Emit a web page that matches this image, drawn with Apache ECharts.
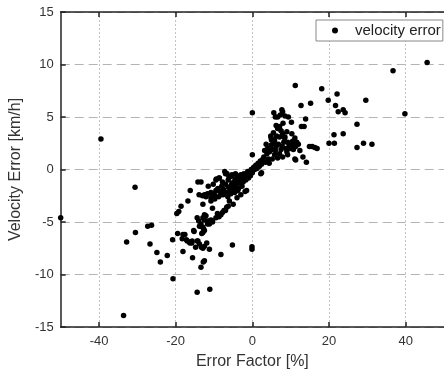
<!DOCTYPE html>
<html>
<head>
<meta charset="utf-8">
<script src="https://cdn.jsdelivr.net/npm/echarts@6/dist/echarts.min.js"></script>
<style>
html,body{margin:0;padding:0;background:#fff;}
#chart{width:444px;height:375px;}
</style>
</head>
<body>
<div id="chart"></div>
<script>
// Data: [error factor (%), velocity error (km/h)]
var seriesName = 'velocity error';
var xTicks = [-40, -20, 0, 20, 40];
var yTicks = [-15, -10, -5, 0, 5, 10, 15];

var outlierPoints = [
  [-50,-4.6],[-39.5,2.9],[-30.6,-1.7],[-33.6,-13.9],[-32.8,-6.9],[-30.5,-6.0],
  [-27.3,-5.4],[-26.3,-5.3],[-26.7,-7.1],[-24.9,-7.9],[-24.0,-8.8],[-22.2,-8.2],
  [-20.7,-10.4],[-20.8,-6.7],[-19.5,-6.1],[-18.1,-7.8],[-18.3,-6.6],[-17.6,-6.2],
  [-17.2,-6.7],[-16.4,-6.9],[-15.8,-7.0],[-15.6,-8.4],[-15.2,-5.9],[-14.8,-7.4],
  [-14.4,-6.8],[-14.4,-11.7],[-13.4,-9.3],[-13.3,-7.4],[-12.8,-8.8],[-12.9,-6.0],
  [-12.7,-5.7],[-11.9,-7.0],[-11.7,-5.2],[-11.2,-4.9],[-10.4,-4.9],[-11.2,-7.6],
  [-11.1,-11.4],[-13.8,-5.4],[-8.2,-8.1],[-5.2,-7.2],[-0.1,-7.35],[-0.1,-7.6]
];
var lowerBandPoints = [
  [-19.7,-4.2],[-19.2,-4.0],[-18.6,-3.5],[-16.8,-3.0],[-16.2,-2.0],[-14.2,-1.2],[-13.4,-1.2],
  [-13.9,-2.4],[-13.0,-2.5],[-12.5,-2.4],[-11.7,-2.3],[-10.8,-2.2],[-10.4,-2.3],[-12.9,-3.3],
  [-10.8,-3.0],[-10.4,-3.7],[-9.1,-4.2],[-8.2,-4.3],[-7.8,-4.1],[-7.4,-3.9],[-6.7,-3.6],
  [-6.3,-3.5],[-12.5,-4.3],[-12.9,-4.6],[-12.1,-4.4],[-14.0,-4.9],[-13.4,-5.2],[-11.7,-4.9],
  [-11.2,-5.2],[-10.4,-5.0],[-12.9,-5.5],[-12.5,-5.8],[-13.2,-6.1],[-15.3,-5.8],[-18.1,-6.2],
  [-17.0,-6.8],[-16.3,-7.0],[-15.7,-6.8],[-14.2,-6.8],[-13.8,-7.1],[-12.9,-7.5],[-12.5,-7.3],
  [-12.5,-8.7],[-12.1,-2.6],[-10.8,-2.7],[-9.9,-2.4],[-9.5,-4.6],[-8.7,-4.5],[-7.0,-3.9],
  [-14.4,-4.6],[-13.4,-5.4],[-12.5,-4.8],[-10.8,-4.8]
];
var centerPoints = [
  [-8.7,-0.8],[-7.8,-1.2],[-7.2,-0.2],[-6.6,-0.4],[-6.3,-1.0],[-5.7,-0.7],[-5.3,-1.3],
  [-4.4,-1.7],[-3.6,-1.8],[-2.7,-1.6],[-1.9,-2.1],[-1.5,-2.0],[-9.5,-2.0],[-9.0,-1.8],
  [-8.5,-2.1],[-8.0,-1.6],[-7.5,-1.9],[-7.0,-1.4],[-6.8,-2.2],[-6.2,-1.7],[-5.8,-2.0],
  [-5.5,-1.5],[-5.0,-1.8],[-4.8,-1.2],[-4.5,-0.9],[-4.2,-1.4],[-4.0,-0.6],[-3.8,-1.1],
  [-3.4,-0.8],[-3.2,-1.3],[-3.0,-0.5],[-2.6,-0.9],[-2.4,-1.2],[-2.2,-0.4],[-2.0,-0.7],
  [-1.7,-1.0],[-1.4,-0.5],[-1.2,-0.2],[-1.0,-0.8],[-0.7,-0.3],[-0.5,-0.6],[-0.3,0.0],
  [0.0,-0.3],[0.3,0.2],[0.6,0.0],[0.9,0.4],[1.2,0.1],[1.5,0.6],[1.8,0.3],[2.1,0.8],
  [2.4,0.5],[2.8,1.0],[-9.8,-2.8],[-8.8,-2.6],[-7.6,-2.4],[-6.4,-2.6],[-5.6,-2.3],
  [-4.6,-2.2],[-3.8,-2.0],[-11.5,-1.6],[-10.2,-1.4],[-9.4,-0.9],[-6.0,-3.0],[-5.0,-3.3],
  [-4.0,-2.7],[-3.0,-2.4],[-9.5,-1.0],[-8.6,-0.8],[-7.0,-0.4],[-6.1,-0.7],[-5.3,-0.5],
  [-4.4,-0.4],[-2.3,-0.7],[-9.1,-2.0],[-8.2,-2.4],[-7.4,-2.1],
  [0.0,1.4],[2.6,0.9],[2.2,0.6],[1.7,0.3],[2.2,-0.4],[2.4,-0.3],[0.0,5.4]
];
var upperBandPoints = [
  [5.6,5.4],[6.0,5.0],[6.6,5.0],[7.3,5.2],[7.9,5.5],[8.5,5.1],[7.7,5.7],[6.2,4.2],
  [6.6,3.9],[7.1,4.1],[7.5,3.7],[7.9,3.4],[4.8,3.2],[5.0,2.8],[5.8,2.6],[5.4,2.5],
  [8.5,3.1],[9.2,2.6],[9.9,2.5],[10.5,2.7],[11.1,3.0],[10.7,2.3],[11.3,2.2],[11.3,0.9],
  [11.2,8.0],[18.1,7.7],[22.1,7.2],[19.8,6.6],[21.7,6.1],[22.4,5.5],[23.7,5.7],[24.2,5.4],
  [29.6,6.6],[12.7,6.1],[15.2,6.3],[9.4,5.0],[10.2,4.5],[13.9,4.8],[12.8,4.1],[13.5,4.1],
  [27.3,4.3],[23.7,3.4],[21.3,3.3],[20.0,2.5],[21.4,2.5],[27.3,2.1],[29.0,2.5],[31.2,2.4],
  [14.9,2.2],[15.6,2.2],[16.3,2.1],[16.9,2.0],[11.6,2.6],[10.7,1.9],[13.2,1.2],[14.1,0.7],
  [11.1,1.0],[4.9,3.0],[5.8,2.8],[4.9,2.3],[6.2,2.2],[7.5,1.9],[8.8,2.0],[9.6,2.3],
  [10.0,2.0],[4.5,1.7],[5.8,1.4],[7.1,1.5],[7.9,1.2],[9.2,1.4],[6.6,1.1],[8.4,3.0],
  [7.1,3.1],[6.8,3.9],[6.5,4.1],[36.7,9.4],[45.6,10.2],[39.8,5.3],
  [3.0,1.2],[3.4,0.7],[3.8,1.5],[4.2,1.0],[3.2,1.8],[4.0,2.0],[5.2,1.9],[6.0,1.8],
  [6.8,2.4],[7.8,2.2],[8.2,2.6],[9.0,1.7],[3.6,2.4],[5.5,3.5],[6.3,3.2],[8.0,4.4],
  [9.0,3.6],[4.4,0.6],[5.2,1.0],[10.3,3.4],[12.0,2.4],[12.4,1.8]
];

var allPoints = outlierPoints.concat(lowerBandPoints, centerPoints, upperBandPoints);

var chart = echarts.init(document.getElementById('chart'), null, {renderer: 'canvas'});
var fam = 'Liberation Sans, Arial, sans-serif';
var axisText = {color: '#333', fontSize: 13, fontFamily: fam};
var nameText = {color: '#333', fontSize: 16, fontFamily: fam};
var axisLine = {show: true, onZero: false, lineStyle: {color: '#222', width: 1.5}};

chart.setOption({
  animation: false,
  backgroundColor: '#fff',
  grid: {left: 57, top: 12, right: -6, bottom: 48, containLabel: false},
  legend: {
    data: [seriesName],
    left: 316, top: 20,
    orient: 'horizontal',
    itemWidth: 30, itemHeight: 6,
    padding: [3, 2, 3, 16],
    borderColor: '#888', borderWidth: 1,
    backgroundColor: '#fff',
    textStyle: {color: '#222', fontSize: 15, fontFamily: fam}
  },
  xAxis: [
    {
      type: 'value', min: -50, max: 50, position: 'bottom',
      name: 'Error Factor [%]', nameLocation: 'middle', nameGap: 27, nameTextStyle: nameText,
      axisLine: axisLine,
      axisTick: {show: true, inside: true, length: 5, lineStyle: {color: '#222', width: 1.5}, customValues: xTicks},
      axisLabel: Object.assign({margin: 8, customValues: xTicks}, axisText),
      splitLine: {show: true, lineStyle: {color: '#c4c4c4', width: 1, type: [2, 2]}}
    },
    {
      type: 'value', min: -50, max: 50, position: 'top',
      axisLine: axisLine,
      axisTick: {show: true, inside: true, length: 5, lineStyle: {color: '#222', width: 1.5}, customValues: xTicks},
      axisLabel: {show: false},
      splitLine: {show: false}
    }
  ],
  yAxis: {
    type: 'value', min: -15, max: 15, interval: 5,
    name: 'Velocity Error [km/h]', nameLocation: 'middle', nameGap: 29, nameTextStyle: nameText,
    axisLine: axisLine,
    axisTick: {show: true, inside: true, length: 5, lineStyle: {color: '#222', width: 1.5}},
    axisLabel: Object.assign({margin: 7}, axisText),
    splitLine: {show: true, lineStyle: {color: '#b4b4b4', width: 1, type: [9, 5]}}
  },
  series: [{
    name: seriesName,
    type: 'scatter',
    xAxisIndex: 0,
    symbol: 'circle',
    symbolSize: 5.5,
    itemStyle: {color: '#000', opacity: 1},
    data: allPoints
  }]
});
</script>
</body>
</html>
